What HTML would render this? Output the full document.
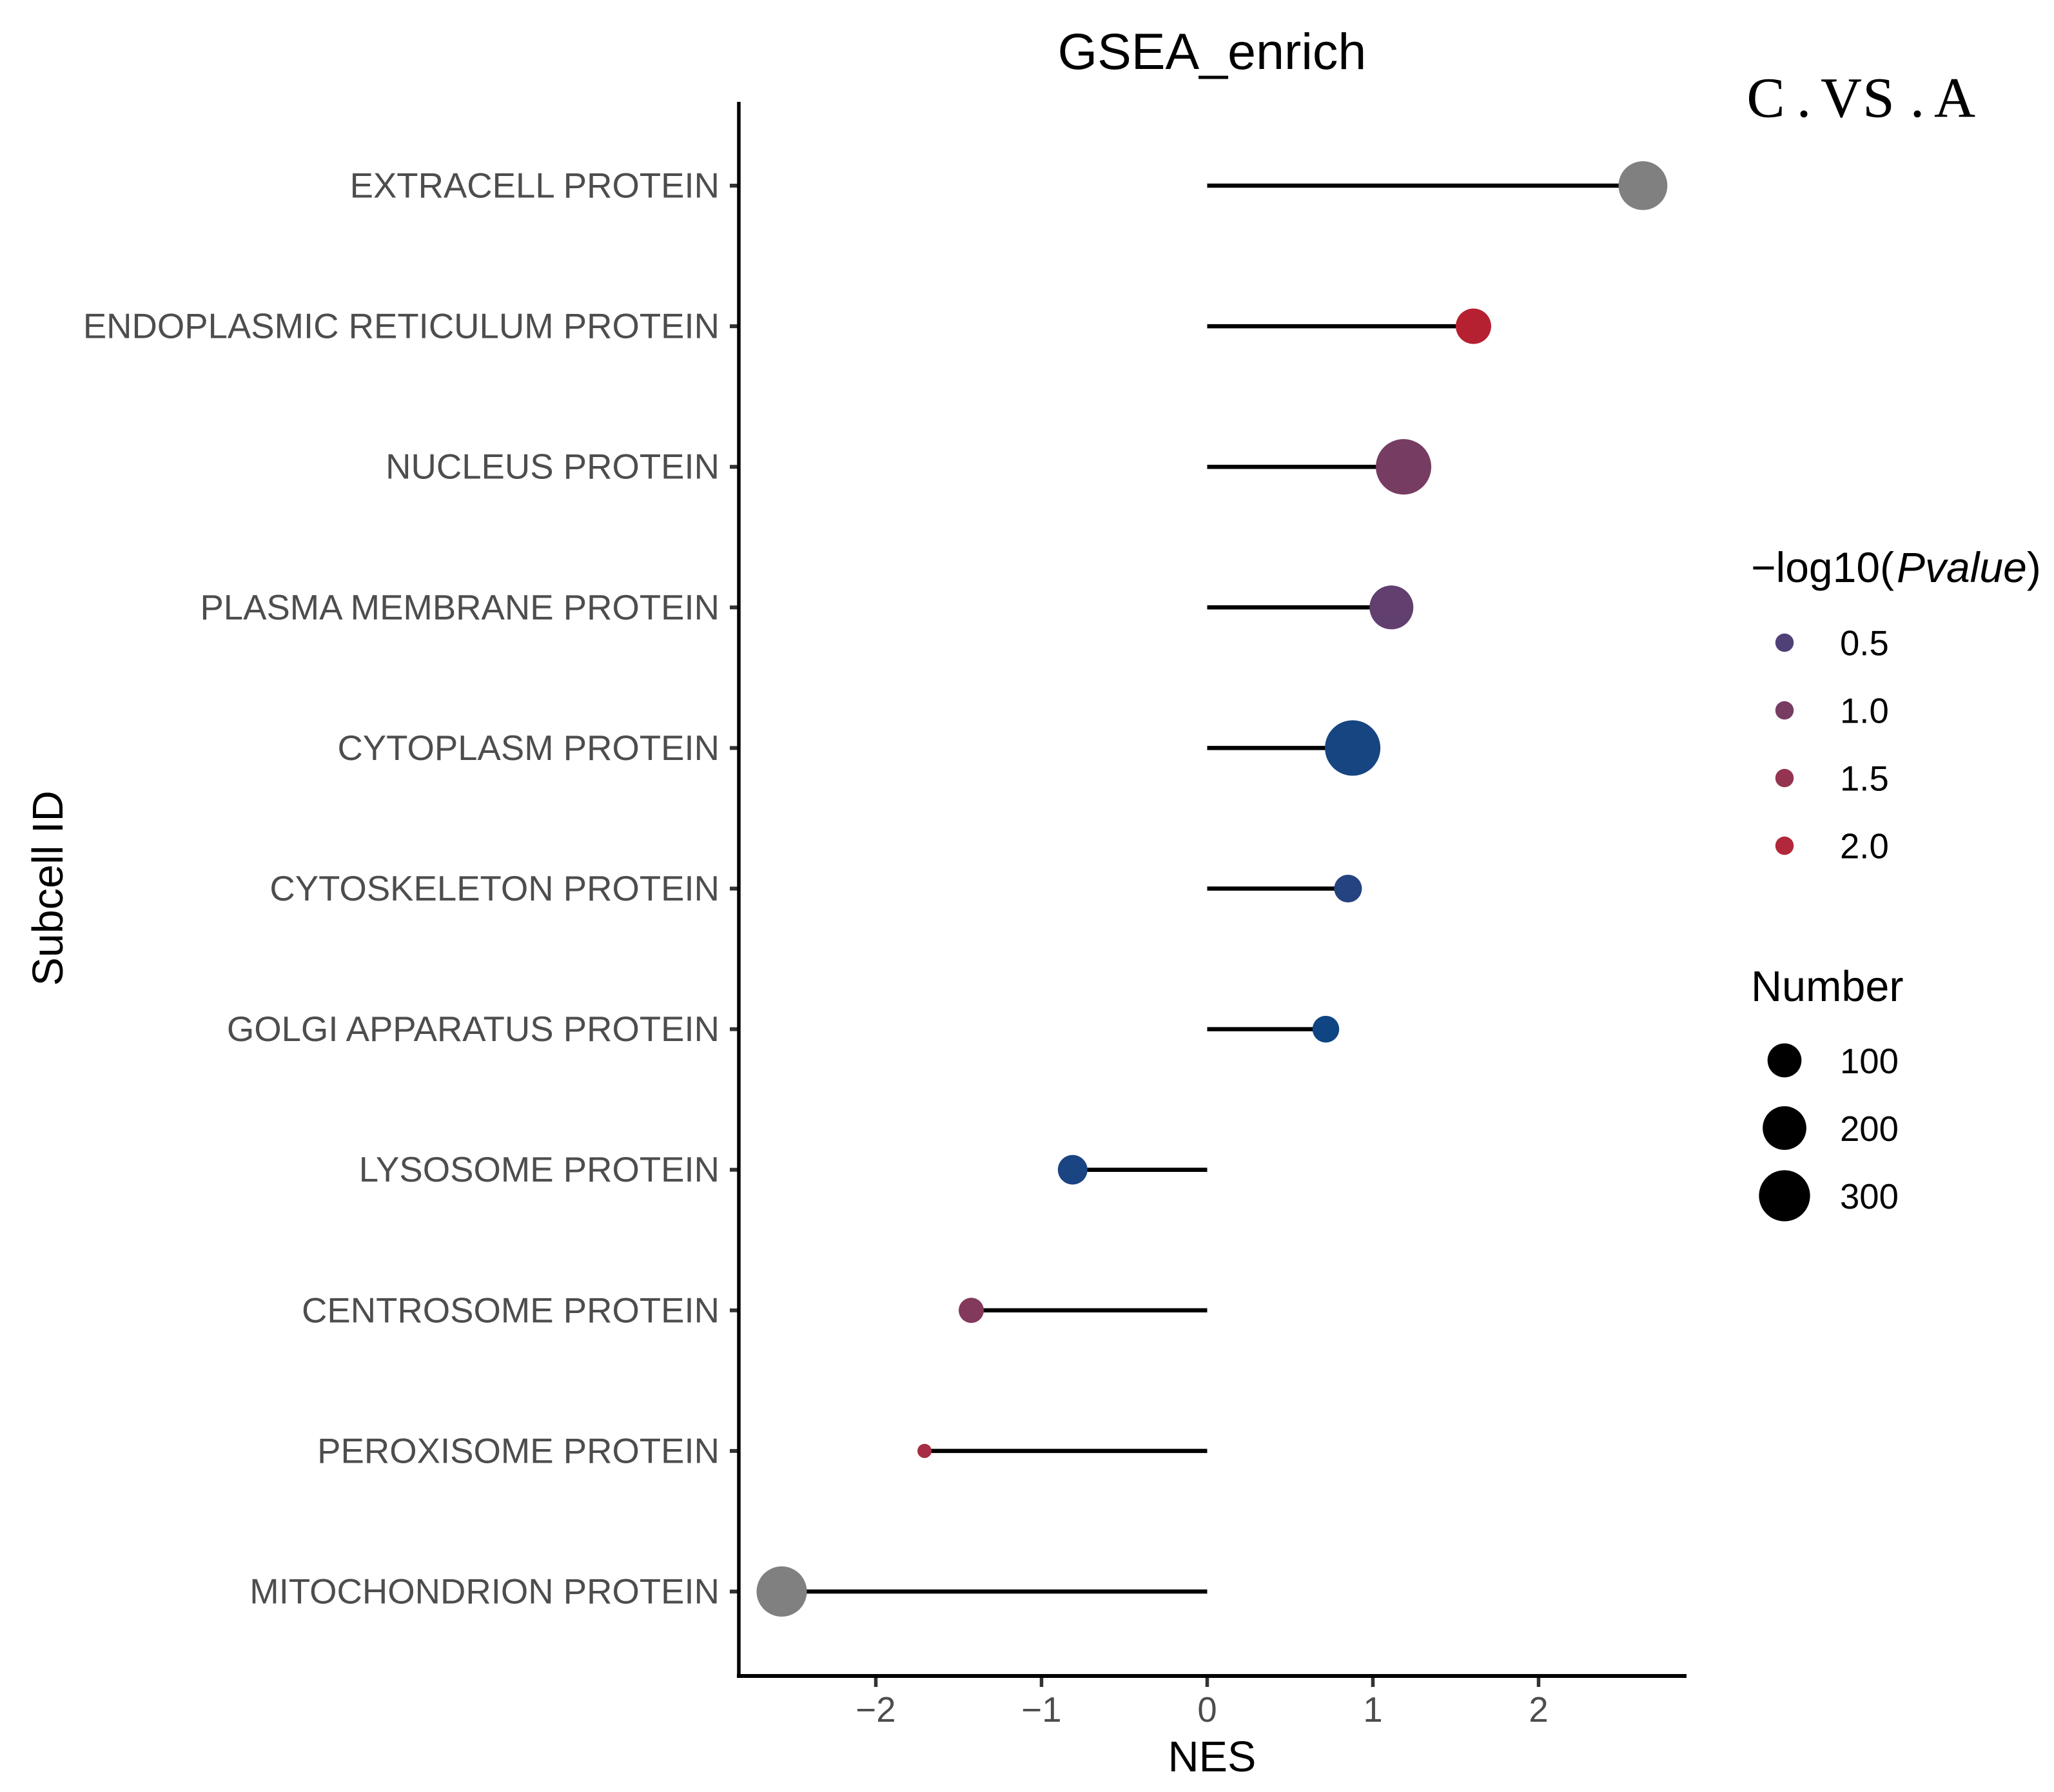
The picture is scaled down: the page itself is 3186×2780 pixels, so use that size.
<!DOCTYPE html>
<html lang="en">
<head>
<meta charset="utf-8">
<title>GSEA_enrich C.VS.A</title>
<style>
  html, body { margin: 0; padding: 0; background: #ffffff; }
  svg { display: block; font-family: "Liberation Sans", Arial, sans-serif; }
</style>
</head>
<body>
<svg id="chart" xmlns="http://www.w3.org/2000/svg" width="3186" height="2780" viewBox="0 0 3186 2780">
  <rect x="0" y="0" width="3186" height="2780" fill="#ffffff"/>
  <text x="1880" y="107" font-size="79" text-anchor="middle" fill="#000000">GSEA_enrich</text>
  <text x="2739 2798 2856 2914 2974 3032" y="181" font-family="'Liberation Serif', serif" font-size="88" text-anchor="middle" fill="#000000" stroke="#000000" stroke-width="0.5">C.VS.A</text>
  <text x="1880" y="2748" font-size="66.5" text-anchor="middle" fill="#000000">NES</text>
  <text transform="translate(97 1378) rotate(-90)" font-size="66.5" text-anchor="middle" fill="#000000">Subcell ID</text>
  <text x="2716" y="903" font-size="66" fill="#000000">−log10(<tspan font-style="italic" dx="4">Pvalue</tspan>)</text>
  <text x="2716" y="1553" font-size="66.5" fill="#000000">Number</text>
  <g id="lines"></g>
  <g id="dots"></g>
  <g id="axes"></g>
  <g id="legend"></g>
</svg>
<script>
const categories = [
  "EXTRACELL PROTEIN",
  "ENDOPLASMIC RETICULUM PROTEIN",
  "NUCLEUS PROTEIN",
  "PLASMA MEMBRANE PROTEIN",
  "CYTOPLASM PROTEIN",
  "CYTOSKELETON PROTEIN",
  "GOLGI APPARATUS PROTEIN",
  "LYSOSOME PROTEIN",
  "CENTROSOME PROTEIN",
  "PEROXISOME PROTEIN",
  "MITOCHONDRION PROTEIN"
];
const nesValues = [2.630, 1.607, 1.185, 1.112, 0.878, 0.850, 0.716, -0.812, -1.424, -1.706, -2.568];
const numberValues = [268, 113, 368, 202, 368, 54, 48, 66, 39, 2.4, 288];
const logPValues = [null, 2.1, 1.0, 0.72, 0.05, 0.2, 0.0, 0.1, 1.2, 1.8, null];
const xTickValues = [-2, -1, 0, 1, 2];
const colorLegendValues = [0.5, 1.0, 1.5, 2.0];
const colorLegendLabels = ["0.5", "1.0", "1.5", "2.0"];
const sizeLegendValues = [100, 200, 300];
const sizeLegendLabels = ["100", "200", "300"];

const SVG_NS = "http://www.w3.org/2000/svg";
function make(tag, parent, attrs, text) {
  const el = document.createElementNS(SVG_NS, tag);
  for (const k in attrs) el.setAttribute(k, attrs[k]);
  if (text !== undefined) el.textContent = text;
  parent.appendChild(el);
  return el;
}
function xScale(v) { return 1872.5 + 257 * v; }
function yScale(i) { return 288 + 218.1 * i; }
function sizeScale(n) { return 16.4 + 3.63 * Math.sqrt(n); }
const colorStops = [
  [0.0, [16, 69, 131]], [0.25, [44, 67, 128]], [0.5, [79, 65, 119]],
  [1.0, [119, 60, 98]], [1.5, [149, 52, 80]], [2.0, [178, 40, 58]], [2.15, [184, 30, 46]]
];
function colorScale(p) {
  if (p === null) return "#808080";
  for (let i = 1; i < colorStops.length; i++) {
    if (p <= colorStops[i][0]) {
      const a = colorStops[i - 1], b = colorStops[i];
      const t = Math.max(0, (p - a[0]) / (b[0] - a[0]));
      const c = a[1].map((v, k) => Math.round(v + (b[1][k] - v) * t));
      return "rgb(" + c.join(",") + ")";
    }
  }
  const last = colorStops[colorStops.length - 1][1];
  return "rgb(" + last.join(",") + ")";
}

const linesG = document.getElementById("lines");
const dotsG = document.getElementById("dots");
const axesG = document.getElementById("axes");
const legendG = document.getElementById("legend");
const TICK_TEXT = "#4d4d4d";
const TICK_LINE = "#333333";

categories.forEach(function (cat, i) {
  const y = yScale(i);
  const line = make("line", linesG, { x1: xScale(0), x2: xScale(nesValues[i]), y1: y, y2: y, stroke: "#000000", "stroke-width": 6.5 });
  
  
  const dot = make("circle", dotsG, { cx: xScale(nesValues[i]), cy: y, r: sizeScale(numberValues[i]) / 2, fill: colorScale(logPValues[i]) });
  
  
  const tick = make("line", axesG, { x1: 1132, x2: 1146, y1: y, y2: y, stroke: TICK_LINE, "stroke-width": 6 });
  
  
  const label = make("text", axesG, { x: 1116, y: y + 18.5, "font-size": 54.5, "text-anchor": "end", fill: TICK_TEXT }, cat);
  
  
});

xTickValues.forEach(function (v) {
  const x = xScale(v);
  const tick = make("line", axesG, { x1: x, x2: x, y1: 2600, y2: 2617, stroke: TICK_LINE, "stroke-width": 5.5 });
  
  
  const label = make("text", axesG, { x: x, y: 2671, "font-size": 54.5, "text-anchor": "middle", fill: TICK_TEXT }, v < 0 ? "\u2212" + Math.abs(v) : String(v));
  
  
});

const yAxisLine = make("line", axesG, { x1: 1146, x2: 1146, y1: 158, y2: 2603, stroke: "#000000", "stroke-width": 5.5 });


const xAxisLine = make("line", axesG, { x1: 1143, x2: 2616, y1: 2600, y2: 2600, stroke: "#000000", "stroke-width": 6 });



colorLegendValues.forEach(function (v, i) {
  const y = 997 + 105 * i;
  const key = make("circle", legendG, { cx: 2768, cy: y, r: 14.25, fill: colorScale(v) });
  
  
  const label = make("text", legendG, { x: 2854, y: y + 19.5, "font-size": 54.5, fill: "#000000" }, colorLegendLabels[i]);
  
  
});

sizeLegendValues.forEach(function (v, i) {
  const y = 1645 + 105 * i;
  const key = make("circle", legendG, { cx: 2768, cy: y, r: sizeScale(v) / 2, fill: "#000000" });
  
  
  const label = make("text", legendG, { x: 2854, y: y + 20, "font-size": 54.5, fill: "#000000" }, sizeLegendLabels[i]);
  
  
});
</script>
</body>
</html>
